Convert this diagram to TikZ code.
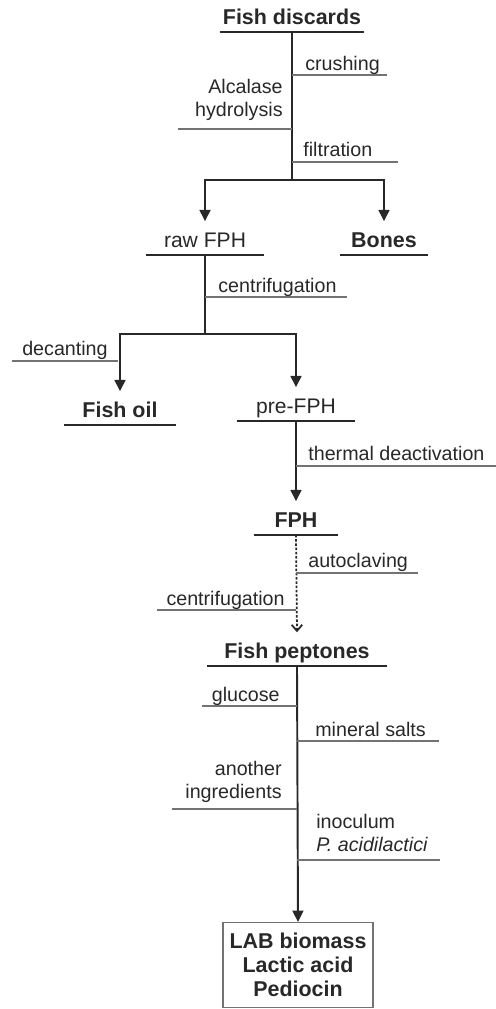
\documentclass[tikz,border=0pt]{standalone}
\usepackage{fontspec}
\setmainfont{Liberation Sans}
\usepackage{tikz}
\usetikzlibrary{arrows.meta}
\definecolor{inkgray}{RGB}{40,40,40}
\definecolor{sidegray}{RGB}{115,115,115}

\begin{document}
\begin{tikzpicture}[x=0.02cm, y=-0.02cm,
  prod/.style={inner sep=0pt, anchor=south, text height=14.8pt, text depth=4pt,
               minimum width=#1, text=inkgray, font=\fontsize{12}{14}\selectfont},
  bprod/.style={prod=#1, font=\fontsize{12.2}{14}\selectfont\bfseries},
  opr/.style={inner sep=0pt, text=inkgray, font=\fontsize{11.2}{13}\selectfont},
  uline/.style={draw=inkgray, line width=1.1pt},
  side/.style={draw=sidegray, line width=0.6pt},
  flow/.style={draw=inkgray, line width=1.1pt},
  arr/.style={flow, -{Triangle[length=6.5pt,width=6.2pt]}},
  darr/.style={draw=inkgray, line width=1pt, dash pattern=on 1.4pt off 1pt,
               -{Straight Barb[length=3.5pt,width=6pt]}},
  endbox/.style={draw=sidegray, line width=0.6pt, minimum width=3cm, minimum height=1.7cm,
                 align=center, text=inkgray, font=\fontsize{12.2}{13.7}\selectfont\bfseries},
]
\useasboundingbox (0,0) rectangle (496,1009);

% products, each sitting on its underline
\node[bprod=2.88cm] (discards) at (292,32)  {Fish discards};
\node[prod=2.34cm]  (rawfph)   at (205,255) {raw FPH};
\node[bprod=1.74cm] (bones)    at (384,255) {Bones};
\node[bprod=2.24cm] (fishoil)  at (120,425) {Fish oil};
\node[prod=2.36cm]  (prefph)   at (296,421) {pre-FPH};
\node[bprod=1.68cm] (fph)      at (296,535) {FPH};
\node[bprod=3.58cm] (peptones) at (297,666) {Fish peptones};
\node[endbox]       (lab)      at (298,965) {LAB biomass\\Lactic acid\\Pediocin};

\foreach \n in {discards,rawfph,bones,fishoil,prefph,fph,peptones}{
  \draw[uline] (\n.south west) -- (\n.south east);
}

% main flow
\coordinate (split1) at (292,180);
\coordinate (split2) at (205,334);
\draw[flow] (discards.south) -- (split1);
\draw[arr] (split1) -| (rawfph.north);
\draw[arr] (split1) -| (bones.north);
\draw[flow] (rawfph.south) -- (split2);
\draw[arr] (split2) -| (fishoil.north);
\draw[arr] (split2) -| (prefph.north);
\draw[arr] (prefph.south) -- (fph.north);
\draw[darr] (fph.south) -- (peptones.north);
\draw[arr] (peptones.south) -- (lab.north);

% operation ticks
\foreach \xa/\xb/\yy in {292/387/75, 178/292/129, 292/398/162, 205/347/297,
                         12/118/361, 296/496/466, 296/418/573, 157/296/610,
                         202/297/706, 297/439/741, 172/297/809, 297/440/860}{
  \draw[side] (\xa,\yy) -- (\xb,\yy);
}

% operation labels
\node[opr, anchor=base west] (crush)  at (305,70)  {crushing};
\node[opr, anchor=south east, align=right] (alcal) at (283,121) {Alcalase\\hydrolysis};
\node[opr, anchor=base west] (filt)   at (303,156) {filtration};
\node[opr, anchor=base west] (centA)  at (218,292) {centrifugation};
\node[opr, anchor=base east] (decant) at (108,355) {decanting};
\node[opr, anchor=base west] (therm)  at (308,460) {thermal deactivation};
\node[opr, anchor=base west] (autoc)  at (308,567) {autoclaving};
\node[opr, anchor=base east] (centB)  at (285,605) {centrifugation};
\node[opr, anchor=base east] (gluc)   at (280,701) {glucose};
\node[opr, anchor=base west] (salts)  at (315,736) {mineral salts};
\node[opr, anchor=south east, align=right] (other) at (282,803) {another\\ingredients};
\node[opr, anchor=south west, align=left] (inoc) at (316,852) {inoculum\\\textit{P. acidilactici}};
\end{tikzpicture}
\end{document}
